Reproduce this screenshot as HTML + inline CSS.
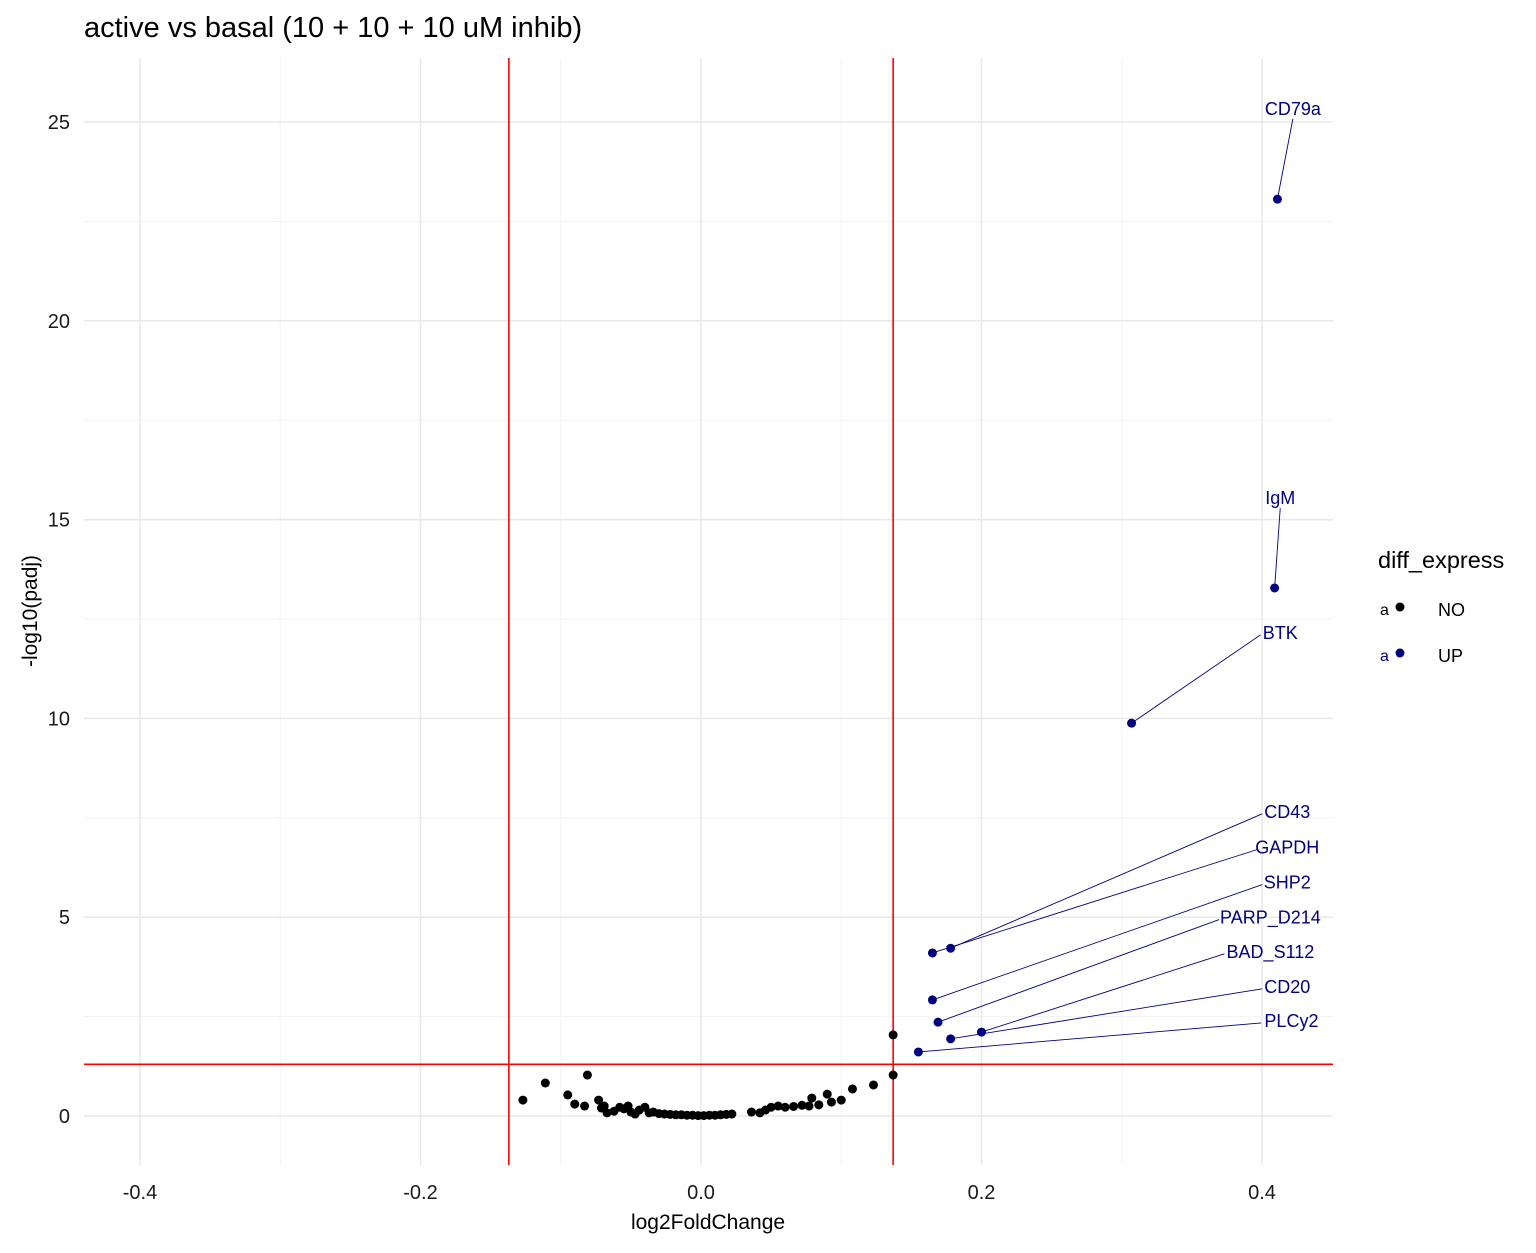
<!DOCTYPE html>
<html><head><meta charset="utf-8"><style>
body{margin:0;background:#fff;}
svg{font-family:"Liberation Sans",Arial,sans-serif;}
</style></head><body>
<svg id="chart" width="1536" height="1248"></svg>
<script>
const noX=[-0.127,-0.111,-0.095,-0.09,-0.083,-0.081,-0.073,-0.071,-0.069,-0.067,-0.062,-0.058,-0.055,-0.052,-0.05,-0.047,-0.044,-0.04,-0.037,-0.034,-0.03,-0.026,-0.022,-0.018,-0.014,-0.01,-0.006,-0.002,0.002,0.006,0.01,0.014,0.018,0.022,0.036,0.042,0.046,0.05,0.055,0.06,0.066,0.072,0.077,0.079,0.084,0.09,0.093,0.1,0.108,0.123,0.137,0.137];
const noY=[0.40,0.83,0.53,0.30,0.25,1.03,0.40,0.20,0.25,0.08,0.12,0.22,0.18,0.25,0.10,0.05,0.15,0.22,0.08,0.10,0.06,0.05,0.04,0.03,0.03,0.02,0.02,0.01,0.01,0.02,0.02,0.03,0.04,0.05,0.10,0.08,0.15,0.22,0.25,0.22,0.24,0.27,0.25,0.45,0.28,0.55,0.35,0.40,0.68,0.78,1.03,2.04];
const upNames=["CD79a","IgM","BTK","CD43","GAPDH","SHP2","PARP_D214","BAD_S112","CD20","PLCy2"];
const upX=[0.411,0.409,0.307,0.178,0.165,0.165,0.169,0.2,0.178,0.155];
const upY=[23.06,13.28,9.88,4.22,4.10,2.92,2.36,2.11,1.94,1.61];
const labX=[0.422,0.413,0.413,0.418,0.418,0.418,0.406,0.406,0.418,0.421];
const labY=[25.33,15.54,12.15,7.65,6.75,5.87,4.99,4.13,3.25,2.39];
const xTicks=[-0.4,-0.2,0.0,0.2,0.4];
const xTickLabels=["-0.4","-0.2","0.0","0.2","0.4"];
const yTicks=[0,5,10,15,20,25];
const yTickLabels=["0","5","10","15","20","25"];
const vLines=[-0.137,0.137];
const hLine=1.301;

const L=84,R=1333,T=58,B=1165;
const sx=v=>701+v*1402.5;
const sy=v=>1116-v*39.76;
const svg=document.getElementById('chart');
const NS="http://www.w3.org/2000/svg";
function mk(tag,attrs,parent){const e=document.createElementNS(NS,tag);for(const k in attrs)e.setAttribute(k,attrs[k]);(parent||svg).appendChild(e);return e;}

const grid=mk('g',{});


for(let i=0;i<xTicks.length-1;i++){const m=(xTicks[i]+xTicks[i+1])/2;mk('line',{x1:sx(m),x2:sx(m),y1:T,y2:B,stroke:'#f3f3f3','stroke-width':1},grid);}
for(let i=0;i<yTicks.length-1;i++){const m=(yTicks[i]+yTicks[i+1])/2;mk('line',{x1:L,x2:R,y1:sy(m),y2:sy(m),stroke:'#f3f3f3','stroke-width':1},grid);}
xTicks.forEach(v=>mk('line',{x1:sx(v),x2:sx(v),y1:T,y2:B,stroke:'#e8e8e8','stroke-width':1.5},grid));
yTicks.forEach(v=>mk('line',{x1:L,x2:R,y1:sy(v),y2:sy(v),stroke:'#e8e8e8','stroke-width':1.5},grid));

xTicks.forEach((v,i)=>{const t=mk('text',{x:sx(v),y:1199,'text-anchor':'middle','font-size':20,fill:'#1a1a1a'});t.textContent=xTickLabels[i];
});
yTicks.forEach((v,i)=>{const t=mk('text',{x:70,y:sy(v)+7,'text-anchor':'end','font-size':20,fill:'#1a1a1a'});t.textContent=yTickLabels[i];
});

vLines.forEach(v=>{const l=mk('line',{x1:sx(v),x2:sx(v),y1:T,y2:B,stroke:'#ff0000','stroke-width':1.6});
});
const hl=mk('line',{x1:L,x2:R,y1:sy(hLine),y2:sy(hLine),stroke:'#ff0000','stroke-width':1.6});


noX.forEach((x,i)=>{const c=mk('circle',{cx:sx(x),cy:sy(noY[i]),r:4.5,fill:'#000'});
});
upX.forEach((x,i)=>{
  const lx=sx(labX[i]),ly=sy(labY[i]);
  const w=upNames[i].length*10.5;
  const ex=(lx-w/2-4), ey=ly+2;
  const px=sx(x),py=sy(upY[i]);
  let sx1=ex,sy1=ey;
  if(i<2){sx1=lx;sy1=ly+10;}
  const s=mk('line',{x1:sx1,y1:sy1,x2:px,y2:py,stroke:'#000080','stroke-width':0.9});
  
  const c=mk('circle',{cx:px,cy:py,r:4.5,fill:'#000080'});
  
  const t=mk('text',{x:lx,y:ly+6,'text-anchor':'middle','font-size':18,fill:'#000080'});t.textContent=upNames[i];
  
});

let t=mk('text',{x:84,y:37,'font-size':29,fill:'#000'});t.textContent="active vs basal (10 + 10 + 10 uM inhib)";

t=mk('text',{x:708,y:1229,'text-anchor':'middle','font-size':21,fill:'#000'});t.textContent="log2FoldChange";

t=mk('text',{x:0,y:0,'text-anchor':'middle','font-size':21,fill:'#000',transform:'translate(37,611) rotate(-90)'});t.textContent="-log10(padj)";


const lg=mk('g',{});

t=mk('text',{x:1378,y:568,'font-size':23.5,fill:'#000'},lg);t.textContent="diff_express";
[["NO","#000",609],["UP","#000080",655]].forEach(([n,col,y])=>{
  const g=mk('g',{},lg);
  
  const a=mk('text',{x:1380,y:y+6,'font-size':16,fill:col},g);a.textContent="a";
  mk('circle',{cx:1400,cy:y-2,r:4.5,fill:col},g);
  const tt=mk('text',{x:1438,y:y+7,'font-size':18,fill:'#000'},g);tt.textContent=n;
});
</script>
</body></html>
